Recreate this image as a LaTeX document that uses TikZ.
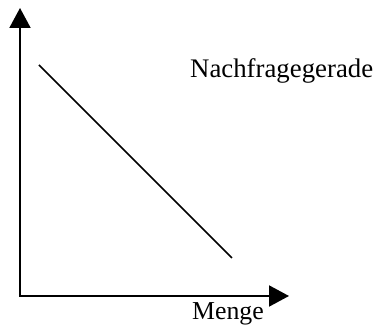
\documentclass[tikz,border=0pt]{standalone}
\usepackage{fontspec}
\setmainfont{Liberation Serif}
\usetikzlibrary{arrows.meta}
\begin{document}
\begin{tikzpicture}[x=1pt,y=1pt,
  axis/.style={line width=2pt,-{Triangle[length=20pt,width=21pt]}},
  lbl/.style={anchor=base west,inner sep=0pt}]
\useasboundingbox (0,0) rectangle (375,331);
\coordinate (O) at (20,35);
\coordinate (Y) at (20,323);
\coordinate (X) at (289,35);
\coordinate (A) at (39,266);
\coordinate (B) at (232,73);
\draw[axis] ([yshift=-1pt]O) -- (Y);
\draw[axis] ([xshift=-1pt]O) -- (X);
\draw[line width=1.5pt] (A) -- (B);
\node[lbl,font=\fontsize{26.8}{30}\selectfont] (nach) at (190,253) {Nachfragegerade};
\node[lbl,font=\fontsize{25.8}{30}\selectfont] (menge) at (192,11) {Menge};
\end{tikzpicture}
\end{document}
